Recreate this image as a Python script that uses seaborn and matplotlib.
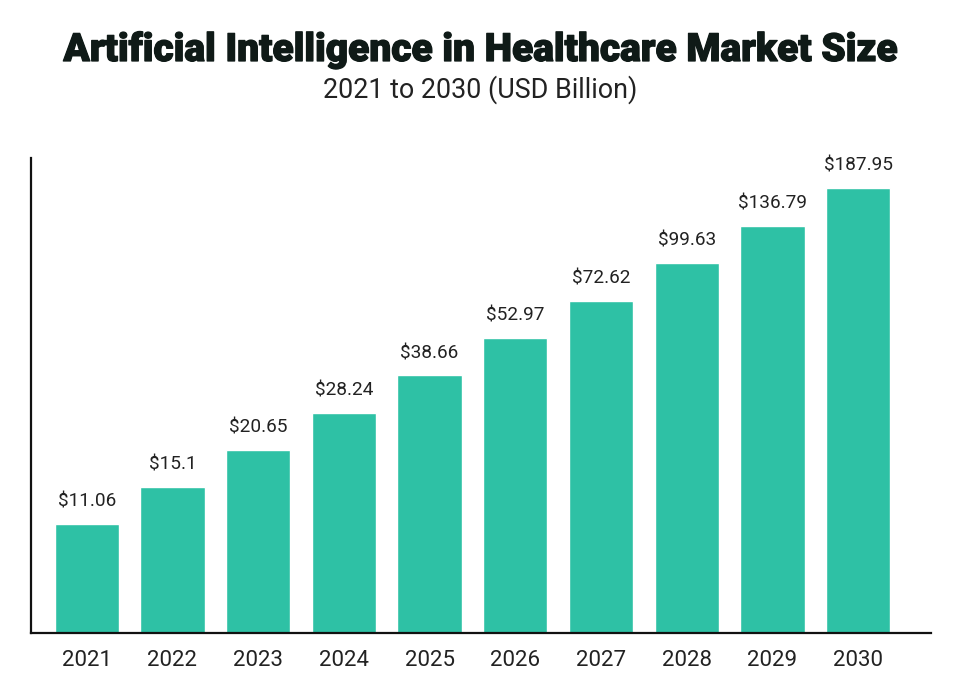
import matplotlib
matplotlib.use("Agg")
import matplotlib.pyplot as plt
import matplotlib.patheffects as pe
import seaborn as sns
import pandas as pd

years = ["2021", "2022", "2023", "2024", "2025", "2026", "2027", "2028", "2029", "2030"]
values = [11.06, 15.1, 20.65, 28.24, 38.66, 52.97, 72.62, 99.63, 136.79, 187.95]
labels = ["$11.06", "$15.1", "$20.65", "$28.24", "$38.66", "$52.97", "$72.62", "$99.63", "$136.79", "$187.95"]

title = "Artificial Intelligence in Healthcare Market Size"
subtitle = "2021 to 2030 (USD Billion)"

sns.set_theme(style="white")
plt.rcParams["font.family"] = ["Roboto", "DejaVu Sans"]

df = pd.DataFrame({"year": years, "value": values})

fig = plt.figure(figsize=(9.6, 6.95), dpi=100)
ax = fig.add_axes([31/960, 62/695, 900/960, 475/695])

sns.barplot(data=df, x="year", y="value", color="#2EC1A5", saturation=1,
            width=0.75, ax=ax)
ax.set_yscale("log")
ax.set_ylim(4.4, 242)
ax.set_xlim(-0.65, 9.85)

for i, (v, lab) in enumerate(zip(values, labels)):
    ax.annotate(lab, (i, v), xytext=(0, 12.5), textcoords="offset points",
                ha="center", va="baseline", fontsize=13.7, color="#222222")

ax.set_xlabel("")
ax.set_ylabel("")
ax.set_yticks([])
ax.minorticks_off()
ax.tick_params(axis="y", which="both", left=False, labelleft=False)
ax.tick_params(axis="x", length=0, pad=12, labelsize=16, labelcolor="#222222")
for s in ["top", "right"]:
    ax.spines[s].set_visible(False)
for s in ["left", "bottom"]:
    ax.spines[s].set_color("#111111")
    ax.spines[s].set_linewidth(1.6)

fig.text(0.5, 1 - 61/695, title, ha="center", va="baseline",
         fontsize=28, fontweight="black", color="#0f1a17",
         path_effects=[pe.withStroke(linewidth=0.9, foreground="#0f1a17")])
fig.text(0.5, 1 - 98/695, subtitle, ha="center", va="baseline",
         fontsize=19.4, color="#222222")

fig.savefig("out.png", dpi=100)
